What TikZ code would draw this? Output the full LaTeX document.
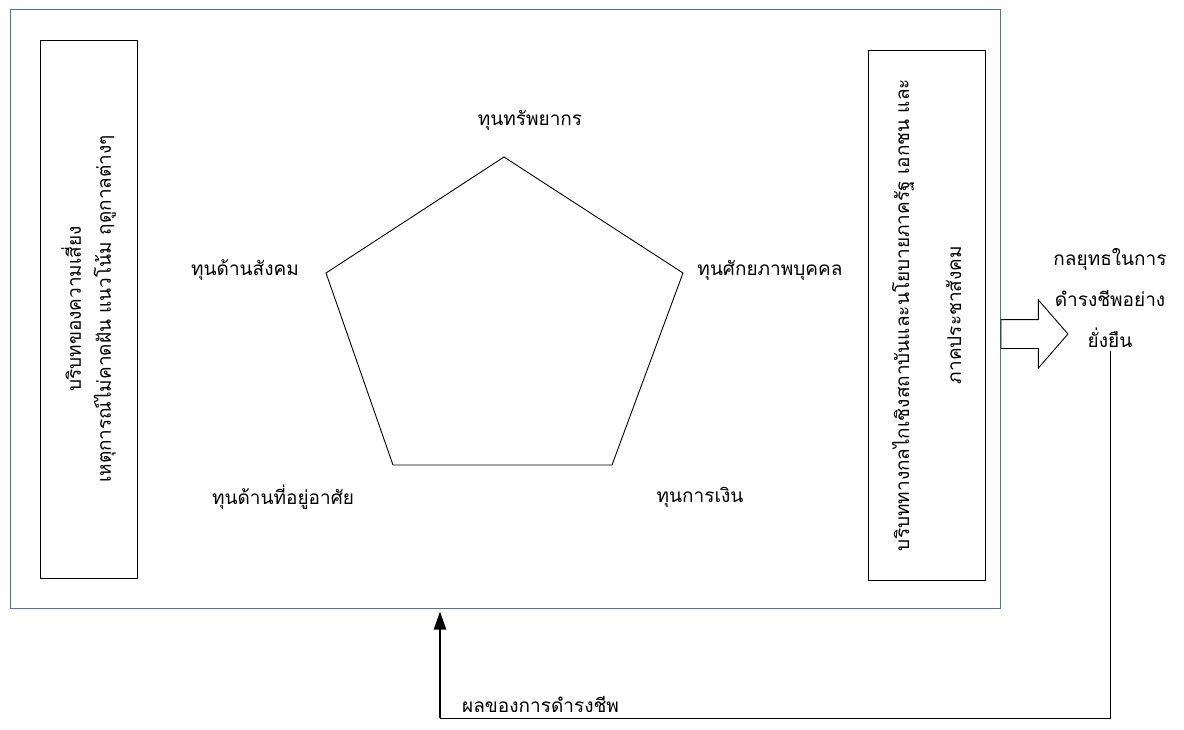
\documentclass[tikz,border=0pt]{standalone}
\usepackage{fontspec}
\newfontfamily\thaifont[Script=Thai]{Loma}
\usetikzlibrary{arrows.meta,positioning,shapes.arrows}
\definecolor{frameblue}{HTML}{4472C4}

\begin{document}
\begin{tikzpicture}[x=1pt,y=-1pt,
    every node/.style={font=\thaifont\fontsize{19}{30}\selectfont},
    ctxbox/.style={draw=black,line width=0.9pt,rotate=90,align=center,inner sep=0pt},
    assetlabel/.style={align=center,inner sep=1pt},
    feedback/.style={line width=1pt,black}]

    \useasboundingbox (0,0) rectangle (1184,730);

    % outer frame
    \node[draw=frameblue,line width=1pt,minimum width=990pt,minimum height=598pt,
        inner sep=0pt] (frame) at (505,309) {};

    % context boxes
    \node[ctxbox,minimum width=538pt,minimum height=97pt] (risk) at (88.5,309)
        {บริบทของความเสี่ยง\\เหตุการณ์ไม่คาดฝัน แนวโน้ม ฤดูกาลต่างๆ};
    \node[ctxbox,minimum width=530pt,minimum height=117pt] (policy) at (926.5,315)
        {บริบททางกลไกเชิงสถาบันและนโยบายภาครัฐ เอกชน และ\\[22pt]ภาคประชาสังคม};

    % pentagon of assets
    \coordinate (ptop) at (504,157);
    \coordinate (pright) at (683,273);
    \coordinate (pbr) at (612,465);
    \coordinate (pbl) at (393,465);
    \coordinate (pleft) at (326,273);
    \draw[line width=0.9pt] (ptop) -- (pright) -- (pbr) -- (pbl) -- (pleft) -- cycle;

    \node[assetlabel] (natural) at (530,120) {ทุนทรัพยากร};
    \node[assetlabel] (social) at (245,270) {ทุนด้านสังคม};
    \node[assetlabel] (human) at (770,270) {ทุนศักยภาพบุคคล};
    \node[assetlabel] (physical) at (283,497) {ทุนด้านที่อยู่อาศัย};
    \node[assetlabel] (financial) at (700,497) {ทุนการเงิน};

    % strategies
    \node[align=center,font=\thaifont\fontsize{19}{41}\selectfont] (strat) at (1110,298)
        {กลยุทธในการ\\ดำรงชีพอย่าง\\ยั่งยืน};

    \node[single arrow,draw,line width=0.9pt,minimum height=67pt,
        inner xsep=0pt,inner ysep=14pt,
        single arrow head extend=19.5pt,single arrow tip angle=98,
        anchor=tail] (flowarrow) at (frame.east |- 0,334) {};

    % feedback loop
    \coordinate (fbcorner) at (440,718);
    \draw[feedback] (strat.south) -- (strat.south |- fbcorner) -- (fbcorner);
    \draw[feedback,line width=2.4pt,-{Triangle[length=18pt,width=12pt]}]
        (fbcorner) -- ([yshift=-3pt]fbcorner |- frame.south);
    \node[anchor=south west,inner sep=0pt] (outcome) at ([xshift=22pt,yshift=5pt]fbcorner)
        {ผลของการดำรงชีพ};
\end{tikzpicture}
\end{document}
